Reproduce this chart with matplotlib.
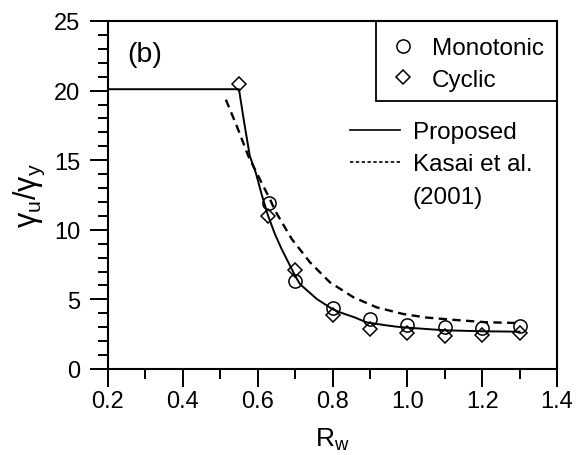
import matplotlib
matplotlib.use("Agg")
import matplotlib.pyplot as plt
from matplotlib.lines import Line2D
from matplotlib.patches import Rectangle
from matplotlib.ticker import MultipleLocator

plt.rcParams['font.family'] = ['Liberation Sans', 'DejaVu Sans']
plt.rcParams['mathtext.fontset'] = 'custom'
plt.rcParams['mathtext.rm'] = 'Liberation Sans'
plt.rcParams['mathtext.it'] = 'Liberation Sans'

# --- dane ---
rw_mono = [0.63, 0.70, 0.80, 0.90, 1.00, 1.10, 1.20, 1.30]
gam_mono = [11.9, 6.35, 4.35, 3.6, 3.18, 3.0, 2.94, 3.1]

rw_cyc = [0.55, 0.627, 0.70, 0.80, 0.90, 1.00, 1.10, 1.20, 1.30]
gam_cyc = [20.5, 10.97, 7.1, 3.85, 2.85, 2.58, 2.38, 2.47, 2.59]

rw_prop = [0.2, 0.55, 0.564, 0.579, 0.595, 0.61, 0.628, 0.646, 0.664, 0.70,
           0.713, 0.758, 0.80, 0.82, 0.86, 0.891, 0.94, 0.971, 1.0, 1.1, 1.2, 1.3]
gam_prop = [20.1, 20.1, 17.7, 15.3, 14.1, 12.6, 11.0, 9.7, 8.62, 6.7,
            6.1, 5.03, 4.3, 4.07, 3.7, 3.35, 3.15, 3.04, 2.97, 2.78, 2.71, 2.68]

rw_kasai = [0.515, 0.545, 0.575, 0.61, 0.633, 0.646, 0.691, 0.74, 0.793, 0.856,
            0.918, 0.989, 1.05, 1.12, 1.21, 1.30]
gam_kasai = [19.35, 17.4, 15.3, 13.4, 12.2, 11.4, 9.34, 7.66, 6.23, 5.15,
             4.43, 3.95, 3.7, 3.54, 3.36, 3.3]

fig = plt.figure(figsize=(5.81, 4.56), dpi=100)
ax = fig.add_axes([108 / 581, 1 - 370 / 456, 449 / 581, 348 / 456])

ax.plot(rw_prop, gam_prop, color='black', lw=1.4)
ax.plot(rw_kasai, gam_kasai, color='black', lw=1.7, linestyle=(0, (3.5, 2.3)))
ax.plot(rw_mono, gam_mono, linestyle='none', marker='o', ms=9.5, mfc='none',
        mec='black', mew=1.1)
ax.plot(rw_cyc, gam_cyc, linestyle='none', marker='D', ms=7, mfc='none',
        mec='black', mew=1.1)

ax.set_xlim(0.2, 1.4)
ax.set_ylim(0, 25)
ax.xaxis.set_major_locator(MultipleLocator(0.2))
ax.xaxis.set_minor_locator(MultipleLocator(0.1))
ax.yaxis.set_major_locator(MultipleLocator(5))
ax.yaxis.set_minor_locator(MultipleLocator(1))
ax.set_xticklabels([f"{v:.1f}" for v in ax.get_xticks()])

for s in ax.spines.values():
    s.set_linewidth(1.5)
ax.tick_params(which='both', direction='out', top=False, right=False,
               labelsize=17, width=1.4)
ax.tick_params(which='major', length=13)
ax.tick_params(which='minor', length=7)
ax.tick_params(axis='x', pad=2)
ax.tick_params(axis='y', pad=7)

ax.set_xlabel(r'$\mathrm{R_w}$', fontsize=19, labelpad=10)
ax.set_ylabel(r'$\mathrm{\gamma_u/\gamma_y}$', fontsize=22, labelpad=5)

ax.text(0.043, 0.905, '(b)', transform=ax.transAxes, fontsize=20.5,
        ha='left', va='center')

# ramka górnej legendy (dosunięta do osi)
ax.add_patch(Rectangle((0.597, 0.770), 0.403, 0.23, transform=ax.transAxes,
                       fill=False, edgecolor='black', lw=1.3, clip_on=False))

# legenda z punktami
pts = [Line2D([], [], ls='none', marker='o', ms=9.5, mfc='none', mec='black', mew=1.1),
       Line2D([], [], ls='none', marker='D', ms=7, mfc='none', mec='black', mew=1.1)]
leg1 = ax.legend(pts, ['Monotonic', 'Cyclic'], loc='upper left',
                 bbox_to_anchor=(0.6214, 0.954), borderaxespad=0, borderpad=0,
                 fontsize=17.5, frameon=False, handlelength=1.3,
                 handletextpad=0.55, labelspacing=0.41)
ax.add_artist(leg1)

# legenda z liniami (trzeci wpis bez symbolu - druga linia opisu)
lns = [Line2D([], [], color='black', lw=1.2),
       Line2D([], [], color='black', lw=1.2, linestyle=(0, (2, 1.5))),
       Line2D([], [], color='none', lw=0)]
ax.legend(lns, ['Proposed', 'Kasai et al.', '(2001)'], loc='upper left',
          bbox_to_anchor=(0.539, 0.7126), borderaxespad=0, borderpad=0,
          fontsize=17.5, frameon=False, handlelength=2.06, handletextpad=0.53,
          labelspacing=0.43)

fig.savefig('out.png', dpi=100)
